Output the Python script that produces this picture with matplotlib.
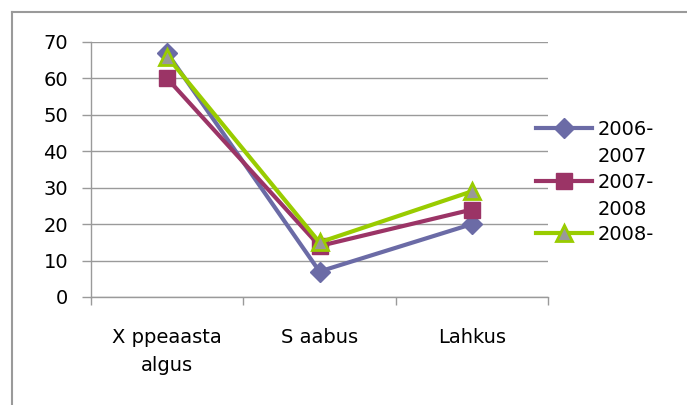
import matplotlib
matplotlib.use("Agg")
import matplotlib.pyplot as plt
from matplotlib.lines import Line2D

categories = ["X ppeaasta\nalgus", "S aabus", "Lahkus"]
series_names = ["2006-", "2007-", "2008-"]
series_second = ["2007", "2008", ""]
v2006 = [67, 7, 20]
v2007 = [60, 14, 24]
v2008 = [66, 15, 29]
yticks = [0, 10, 20, 30, 40, 50, 60, 70]

plt.rcParams['font.family'] = ['DejaVu Sans']
FS = 14

fig = plt.figure(figsize=(6.87, 4.05), dpi=100)
ax = fig.add_axes([91/687, 1-297/405, (548-91)/687, (297-42)/405])

x = list(range(len(categories)))
styles = [
    dict(color="#6B6BA6", marker="D", markersize=10, markerfacecolor="#6B6BA6", markeredgecolor="#6B6BA6"),
    dict(color="#9B3466", marker="s", markersize=11, markerfacecolor="#9B3466", markeredgecolor="#9B3466"),
    dict(color="#99CC00", marker="^", markersize=12, markerfacecolor="#999999", markeredgecolor="#99CC00", markeredgewidth=2),
]
lines = []
for vals, st, nm in zip([v2006, v2007, v2008], styles, series_names):
    ln, = ax.plot(x, vals, linewidth=3, label=nm, solid_joinstyle="miter", zorder=3, **st)
    lines.append(ln)

ax.set_xlim(-0.5, 2.5)
ax.set_ylim(0, 70)
ax.set_yticks(yticks)
ax.set_yticklabels([str(t) for t in yticks], fontsize=FS)
ax.yaxis.grid(True, color="#9a9a9a", linewidth=1)
ax.set_axisbelow(True)
ax.tick_params(axis="y", length=6.5, color="#9a9a9a", width=1, pad=10)

ax.set_xticks(x)
ax.set_xticklabels(categories, fontsize=FS, linespacing=1.65)
ax.set_xticks([-0.5, 0.5, 1.5, 2.5], minor=True)
ax.tick_params(axis="x", which="major", length=0, pad=22)
ax.tick_params(axis="x", which="minor", length=6, color="#9a9a9a", width=1)

for s in ["top", "right"]:
    ax.spines[s].set_visible(False)
for s in ["left", "bottom"]:
    ax.spines[s].set_color("#9a9a9a")
    ax.spines[s].set_linewidth(1)

leg = ax.legend(handles=lines, labels=series_names, loc="upper left",
                bbox_to_anchor=(536/687, 1-120/405), bbox_transform=fig.transFigure,
                frameon=False, fontsize=FS, handlelength=2.9, labelspacing=1.73,
                handletextpad=0.25, borderaxespad=0, borderpad=0)

# outer chart border (top and left visible)
fig.add_artist(Line2D([12/687, 1.0], [1-12/405, 1-12/405], color="#9a9a9a", linewidth=1.5, transform=fig.transFigure))
fig.add_artist(Line2D([12/687, 12/687], [0, 1-12/405], color="#9a9a9a", linewidth=1.5, transform=fig.transFigure))

fig.canvas.draw()
inv = fig.transFigure.inverted()
for t, sec in zip(leg.get_texts(), series_second):
    if not sec:
        continue
    bb = t.get_window_extent()
    x0, y0 = inv.transform((bb.x0, bb.y0))
    fig.text(x0, y0 - 8/405, sec, fontsize=FS, ha="left", va="top")

fig.savefig("out.png", dpi=100)
